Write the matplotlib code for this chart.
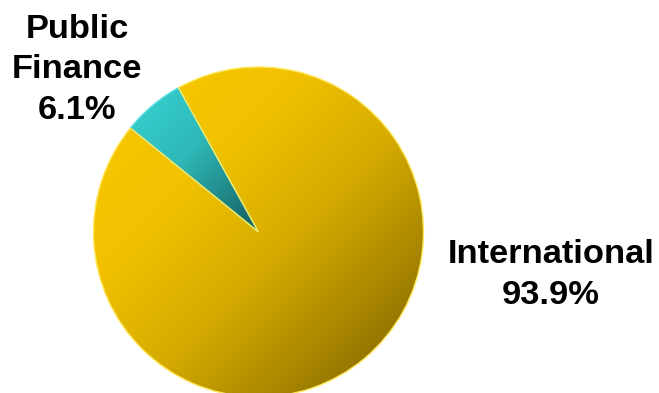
import numpy as np
import matplotlib.pyplot as plt
from matplotlib.colors import LinearSegmentedColormap

# data
labels = ["Public\nFinance\n6.1%", "International\n93.9%"]
shares = [6.1, 93.9]

# gradient stops (light -> dark) for each slice
grad_colors = [[(0.0, "#38D2D2"), (0.45, "#2FB8B8"), (1.0, "#155C5E")],
               [(0.0, "#F8C800"), (0.3, "#F3C200"), (0.55, "#D6AC00"), (1.0, "#785E00")]]
edge_colors = ["#5FE0E0", "#FFE85A"]

fig = plt.figure(figsize=(6.59, 3.93), dpi=100)
ax = fig.add_axes([0, 0, 1, 1])

cx, cy, r = 258.5, 161.0, 165.0

wedges, _ = ax.pie(shares, startangle=119, counterclock=True,
                   center=(cx, cy), radius=r,
                   wedgeprops=dict(linewidth=1.0))
ax.set_aspect("equal")
ax.axis("off")

# diagonal gradient (top-left light, bottom-right dark)
n = 300
gx, gy = np.meshgrid(np.linspace(0, 1, n), np.linspace(0, 1, n))
t = (gx + gy) / 2.0

for w, stops, ec in zip(wedges, grad_colors, edge_colors):
    w.set_facecolor("none")
    w.set_edgecolor(ec)
    w.set_zorder(3)
    bb = w.get_path().get_extents(w.get_patch_transform())
    cmap = LinearSegmentedColormap.from_list("g", stops)
    im = ax.imshow(t, cmap=cmap, origin="upper",
                   extent=[bb.x0, bb.x1, bb.y0, bb.y1],
                   interpolation="bilinear", zorder=2, aspect="auto")
    im.set_clip_path(w)

ax.set_xlim(0, 659)
ax.set_ylim(0, 393)

font = dict(family=["Liberation Sans", "DejaVu Sans"], fontsize=24.8,
            fontweight="bold", ha="center", va="center", linespacing=1.38)
ax.text(77, 393 - 70, labels[0], **font)
ax.text(551, 393 - 275, labels[1], **font)

fig.savefig("out.png", dpi=100)
